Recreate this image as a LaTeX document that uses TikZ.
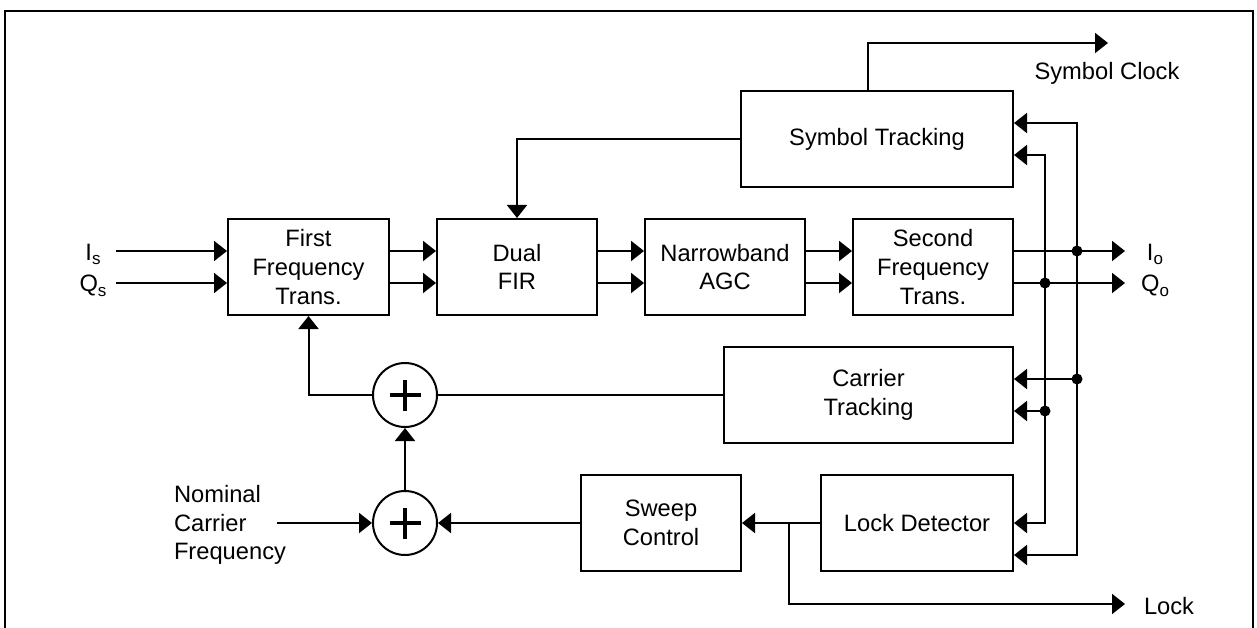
\documentclass[tikz,border=0pt]{standalone}
\usepackage{fontspec}
\setmainfont{Liberation Sans}
\usetikzlibrary{arrows.meta,calc}
\newcommand\lowsub[1]{\raisebox{-5pt}{\fontsize{17}{17}\selectfont #1}}
\begin{document}
\begin{tikzpicture}[x=1pt,y=-1pt, line width=2pt,
  every node/.style={font=\fontsize{23.7}{28.6}\selectfont},
  blk/.style={draw, rectangle, minimum height=96pt, inner sep=0pt, align=center},
  sumc/.style={draw, circle, minimum size=64pt, inner sep=0pt},
  arr/.style={-{Triangle[length=13pt,width=20pt]}},
  lbl/.style={inner sep=0pt}]
\useasboundingbox (0,0) rectangle (1257,628);
\fill[white] (0,0) rectangle (1257,628);
\draw (5,632) -- (5,11) -- (1253,11) -- (1253,632);

% blocks
\node[blk, minimum width=161pt] (fft) at (308.5,267) {First\\Frequency\\Trans.};
\node[blk, minimum width=160pt] (fir) at (517,267) {Dual\\FIR};
\node[blk, minimum width=160pt] (agc) at (725,267) {Narrowband\\AGC};
\node[blk, minimum width=160pt] (sft) at (933,267) {Second\\Frequency\\Trans.};
\node[blk, minimum width=272pt] (sym) at (877,139) {Symbol Tracking};
\node[blk, minimum width=289pt] (car) at (868.5,395) {Carrier\\Tracking};
\node[blk, minimum width=192pt] (lock) at (917,523) {Lock Detector};
\node[blk, minimum width=160pt] (sweep) at (661,523) {Sweep\\Control};
\node[sumc] (sum1) at (405,395) {};
\node[sumc] (sum2) at (405,523) {};
\foreach \s in {sum1,sum2}{
  \draw[line width=4pt] ($(\s)+(-15.5,0)$) -- ($(\s)+(15.5,0)$);
  \draw[line width=4pt] ($(\s)+(0,-15.5)$) -- ($(\s)+(0,15.5)$);
}

% labels
\node[lbl, anchor=base] (isl) at (93,260) {I\lowsub{s}};
\node[lbl, anchor=base] (qsl) at (93,291) {Q\lowsub{s}};
\node[lbl, anchor=base] (iol) at (1155,260) {I\lowsub{o}};
\node[lbl, anchor=base] (qol) at (1155,291) {Q\lowsub{o}};
\node[lbl, anchor=base] (scl) at (1107,80) {Symbol Clock};
\node[lbl, anchor=base west] (lockl) at (1143,614) {Lock};
\node[lbl, anchor=west, align=left] (noml) at (173,525) {Nominal\\Carrier\\Frequency};

% coordinates
\coordinate (isin) at (116,251);
\coordinate (qsin) at (116,283);
\coordinate (iotip) at (1125,251);
\coordinate (qotip) at (1125,283);
\coordinate (jI) at (1077,251);
\coordinate (jQ) at (1045,283);
\coordinate (jIc) at (1077,379);
\coordinate (jQc) at (1045,411);
\coordinate (sc0) at (868,91);
\coordinate (sctip) at (1108,43);
\coordinate (nomin) at (277,523);
\coordinate (lb) at (789,523);
\coordinate (locktip) at (1125,604);

% connectors
\draw[arr] (isin) -- (isin -| fft.west);
\draw[arr] (qsin) -- (qsin -| fft.west);
\foreach \a/\b in {fft/fir, fir/agc, agc/sft}{
  \draw[arr] ($(\a.east)+(0,-16)$) -- ($(\b.west)+(0,-16)$);
  \draw[arr] ($(\a.east)+(0,16)$) -- ($(\b.west)+(0,16)$);
}
\draw[arr] ($(sft.east)+(0,-16)$) -- (iotip);
\draw[arr] ($(sft.east)+(0,16)$) -- (qotip);
\draw[arr] (jI) |- ($(sym.east)+(0,-16)$);
\draw[arr] (jQ) |- ($(sym.east)+(0,16)$);
\draw[arr] (jI) |- ($(lock.east)+(0,32)$);
\draw[arr] (jQ) |- (lock.east);
\draw[arr] (jIc) -- ($(car.east)+(0,-16)$);
\draw[arr] (jQc) -- ($(car.east)+(0,16)$);
\foreach \p in {jI,jQ,jIc,jQc} \fill (\p) circle (5.5);

\draw[arr] (sym.west) -| (fir.north);
\draw[arr] (sc0) |- (sctip);
\draw (car.west) -- (sum1.east);
\draw[arr] (sum1.west) -| (fft.south);
\draw[arr] (sum2.north) -- (sum1.south);
\draw[arr] (nomin) -- (sum2.west);
\draw[arr] (sweep.west) -- (sum2.east);
\draw[arr] (lock.west) -- (sweep.east);
\draw[arr] (lb) |- (locktip);
\end{tikzpicture}
\end{document}
